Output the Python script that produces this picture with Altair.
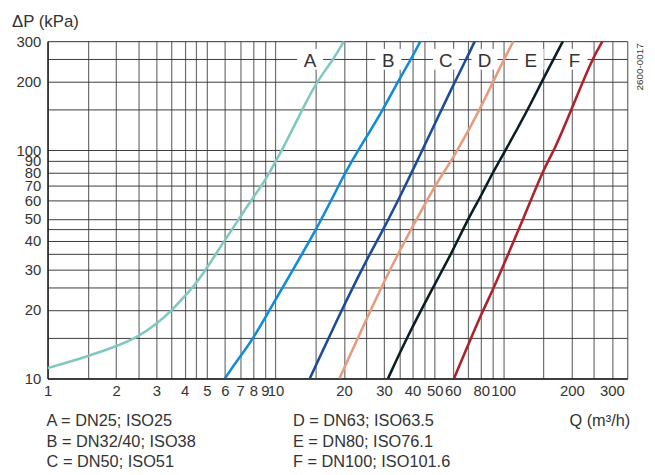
import altair as alt
import pandas as pd

# ---- data ----
curve_names = ["A", "B", "C", "D", "E", "F"]

A_q = [1, 1.5, 2, 2.5, 3, 3.5, 4, 4.5, 5, 6, 7, 8, 9, 10, 10.7, 13.1, 15.2, 18, 20]
A_p = [11.1, 12.5, 13.8, 15.2, 17.3, 19.8, 22.9, 26.2, 30.4, 40.4, 50.9, 62.2, 73.4, 89, 100, 150, 200, 250, 300]

B_q = [6, 6.8, 8, 10, 15.2, 20.2, 23.1, 29.7, 34.5, 39.4, 43.3]
B_p = [10, 12, 14.9, 22.2, 44.9, 79.8, 100, 150, 200, 250, 300]

C_q = [14.15, 19.6, 25.1, 30.2, 36.3, 41.2, 45.8, 60.8, 68.4, 75]
C_p = [10, 20.1, 33.1, 46.1, 66.5, 86.5, 108, 196, 247, 300]

D_q = [19.1, 25.1, 31.7, 41.4, 51.5, 59.4, 79.4, 90.8, 100, 110.9]
D_p = [10, 18.2, 29.9, 49.3, 73.4, 89.6, 152, 202, 246, 300]

E_q = [31.2, 37.5, 49, 59.8, 69.5, 80.8, 89.9, 101.9, 128, 147.8, 182.8]
E_p = [10, 14.9, 24.9, 35.9, 49.3, 64.3, 79.8, 99, 150, 200, 300]

F_q = [60.8, 70.7, 80.8, 90.8, 100.2, 122.5, 152.3, 167, 199, 245, 273]
F_p = [10, 14.3, 19.5, 24.9, 31.3, 50.1, 85.3, 99, 150, 250, 300]

# curve-letter annotations (data space, on the 250 kPa line)
letter_q = [14.2, 31.3, 56, 82.7, 132, 205.6]
letter_p = 250

x_grid = [1, 1.5, 2, 2.5, 3, 3.5, 4, 4.5, 5, 6, 7, 8, 9, 10, 15, 20, 25, 30, 35, 40, 45,
          50, 60, 70, 80, 90, 100, 150, 200, 250, 300, 350]
x_labels = [1, 2, 3, 4, 5, 6, 7, 8, 9, 10, 20, 30, 40, 50, 60, 80, 100, 200, 300]
y_grid = [10, 15, 20, 25, 30, 35, 40, 45, 50, 60, 70, 80, 90, 100, 150, 200, 250, 300]
y_labels = [10, 20, 30, 40, 50, 60, 70, 80, 90, 100, 200, 300]

legend_texts = ["A = DN25; ISO25", "B = DN32/40; ISO38", "C = DN50; ISO51",
                "D = DN63; ISO63.5", "E = DN80; ISO76.1", "F = DN100; ISO101.6"]
y_title = "ΔP (kPa)"
x_title = "Q (m³/h)"
code_text = "2600-0017"

# ---- styles ----
curve_colors = ["#80c8c1", "#0f8cda", "#1d4b98", "#e89c7f", "#0b1d25", "#b0222a"]
FONT = "Liberation Sans"
TXT = "#333333"

# ---- build tables ----
rows = []
for name, qs, ps in zip(curve_names, [A_q, B_q, C_q, D_q, E_q, F_q],
                        [A_p, B_p, C_p, D_p, E_p, F_p]):
    for i, (q, p) in enumerate(zip(qs, ps)):
        rows.append({"curve": name, "Q": q, "P": p, "i": i})
curves_df = pd.DataFrame(rows)

letters_df = pd.DataFrame({"name": curve_names, "Q": letter_q, "P": [letter_p] * 6})

legend_df = pd.DataFrame({
    "text": legend_texts,
    "px": [-1 if i < 3 else 248 for i in range(6)],
    "py": [389 + 20.8 * (i % 3) for i in range(6)],
})

xlab_expr = "indexof([" + ",".join(str(v) for v in x_labels) + "], datum.value) >= 0 ? format(datum.value, 'd') : ''"
ylab_expr = "indexof([" + ",".join(str(v) for v in y_labels) + "], datum.value) >= 0 ? format(datum.value, 'd') : ''"

xscale = alt.Scale(type="log", domain=[1, 350], nice=False)
yscale = alt.Scale(type="log", domain=[10, 300], nice=False)

xaxis = alt.Axis(values=x_grid, labelExpr=xlab_expr, title=None, ticks=False,
                 labelFlush=False, labelOverlap=False, labelPadding=5,
                 labelFontSize=15, labelFont=FONT, labelColor=TXT,
                 grid=True, gridColor="#6e6e6e", gridWidth=1.2,
                 domainColor="#222222", domainWidth=1.5)
yaxis = alt.Axis(values=y_grid, labelExpr=ylab_expr, title=None, ticks=False,
                 labelFlush=False, labelOverlap=False, labelPadding=7,
                 labelFontSize=15, labelFont=FONT, labelColor=TXT,
                 grid=True, gridColor="#3a3a3a", gridWidth=1,
                 domainColor="#222222", domainWidth=1.5)

lines = alt.Chart(curves_df).mark_line(strokeWidth=2.6, clip=True, interpolate="basis").encode(
    x=alt.X("Q:Q", scale=xscale, axis=xaxis),
    y=alt.Y("P:Q", scale=yscale, axis=yaxis),
    color=alt.Color("curve:N", scale=alt.Scale(domain=curve_names, range=curve_colors), legend=None),
    detail="curve:N",
    order="i:Q",
)

boxes = alt.Chart(letters_df).mark_point(
    shape="M-1.25,-1L1.25,-1L1.25,1L-1.25,1Z", filled=True, color="white", opacity=1, size=440
).encode(x=alt.X("Q:Q", scale=xscale), y=alt.Y("P:Q", scale=yscale))

letters = alt.Chart(letters_df).mark_text(
    font=FONT, fontSize=19, color=TXT, baseline="middle", align="center", dy=2
).encode(x=alt.X("Q:Q", scale=xscale), y=alt.Y("P:Q", scale=yscale), text="name:N")

legend = alt.Chart(legend_df).mark_text(
    font=FONT, fontSize=16.5, color=TXT, align="left", baseline="alphabetic"
).encode(x=alt.X("px:Q", scale=None), y=alt.Y("py:Q", scale=None), text="text:N")

qlabel = alt.Chart(pd.DataFrame({"t": [x_title]})).mark_text(
    font=FONT, fontSize=16.5, color=TXT, align="right", baseline="alphabetic"
).encode(x=alt.value(589), y=alt.value(389), text="t:N")

ytitle = alt.Chart(pd.DataFrame({"t": [y_title]})).mark_text(
    font=FONT, fontSize=17, color=TXT, align="left", baseline="alphabetic"
).encode(x=alt.value(-36), y=alt.value(-14), text="t:N")

code = alt.Chart(pd.DataFrame({"t": [code_text]})).mark_text(
    font=FONT, fontSize=10, color=TXT, align="center", baseline="middle", angle=270
).encode(x=alt.value(599), y=alt.value(26), text="t:N")

chart = alt.layer(boxes, letters, lines, legend, qlabel, ytitle, code).properties(
    width=586, height=341,
    autosize=alt.AutoSizeParams(type="none"),
    padding={"left": 40, "top": 31, "right": 20, "bottom": 90},
).configure_view(strokeWidth=0).configure(background="white")

chart.save("out.html", embed_options={"renderer": "svg", "actions": False})
